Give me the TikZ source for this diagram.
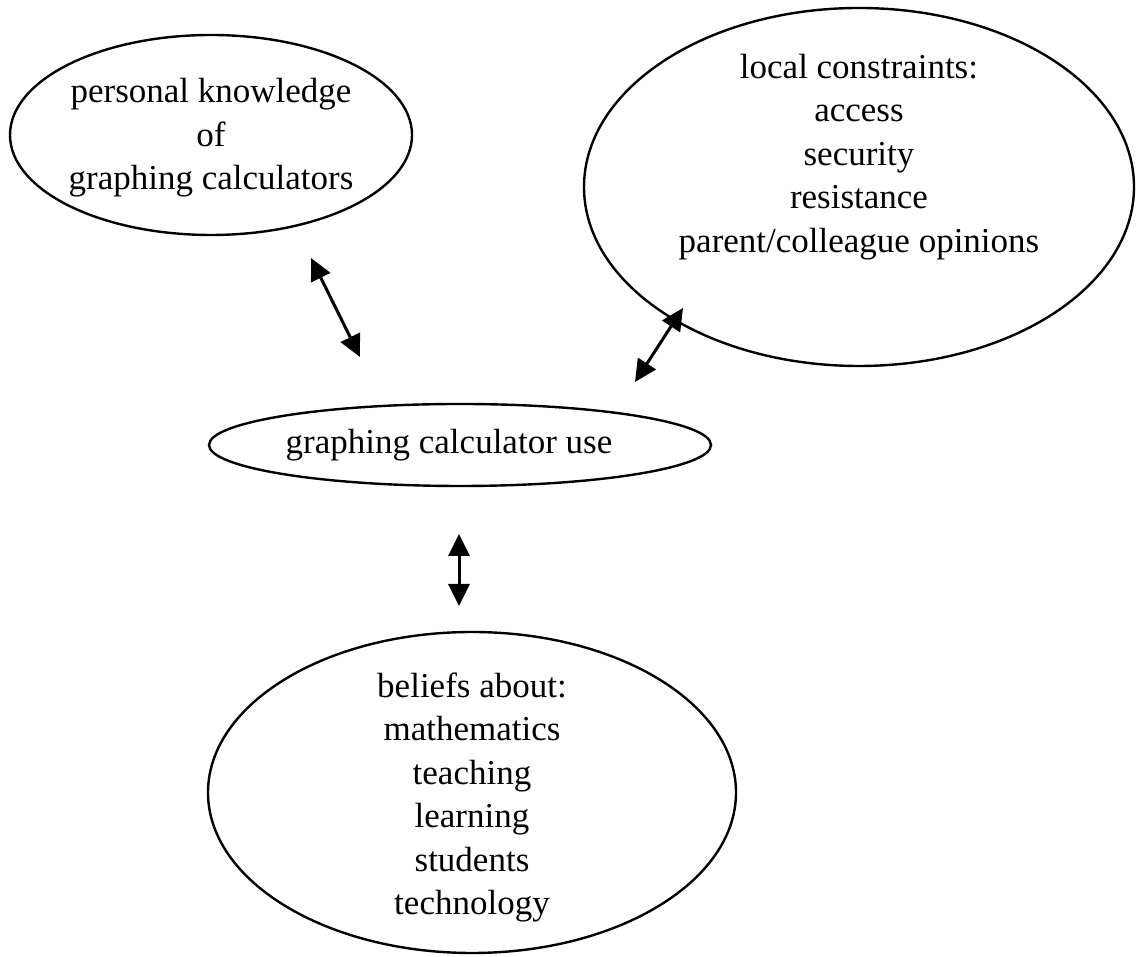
\documentclass[tikz,border=0pt]{standalone}
\usepackage{fontspec}
\setmainfont{Liberation Serif}
\usetikzlibrary{shapes.geometric,arrows.meta}
\tikzset{
  bubble/.style={draw, line width=2.4pt, ellipse, inner sep=0pt},
  label/.style={align=center, inner sep=0pt, font=\fontsize{35}{43.5}\selectfont},
  link/.style={line width=3pt, {Triangle[length=22pt,width=21pt]}-{Triangle[length=22pt,width=21pt]}}
}
\begin{document}
\begin{tikzpicture}[x=1pt,y=1pt]
\useasboundingbox (0,0) rectangle (1139,957);
% ellipses
\node[bubble, minimum width=402pt, minimum height=200pt] (know) at (211,822) {};
\node[bubble, minimum width=550pt, minimum height=358pt] (local) at (859,770) {};
\node[bubble, minimum width=502pt, minimum height=82pt] (use) at (460,512) {};
\node[bubble, minimum width=528pt, minimum height=321pt] (beliefs) at (472,164.5) {};
% texts
\node[label] (knowtxt) at (211,819) {personal knowledge\\of\\graphing calculators};
\node[label] (localtxt) at (859,800) {local constraints:\\access\\security\\resistance\\parent/colleague opinions};
\node[label] (usetxt) at (449,512) {graphing calculator use};
\node[label] (beliefstxt) at (472,159.5) {beliefs about:\\mathematics\\teaching\\learning\\students\\technology};
% connectors
\coordinate (a1) at (311,699);
\coordinate (b1) at (360,600);
\coordinate (a2) at (683,649);
\coordinate (b2) at (635,575);
\coordinate (a3) at (459,423);
\coordinate (b3) at (459,351);
\draw[link] (a1) -- (b1);
\draw[link] (a2) -- (b2);
\draw[link] (a3) -- (b3);
\end{tikzpicture}
\end{document}
